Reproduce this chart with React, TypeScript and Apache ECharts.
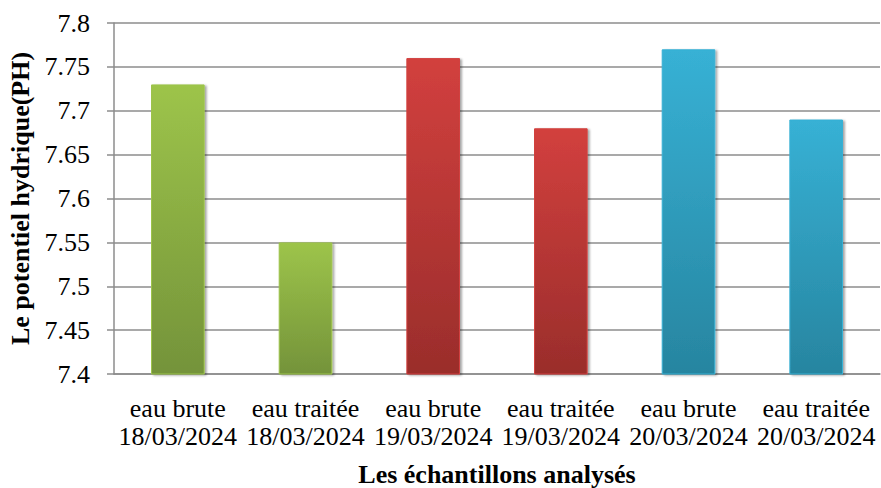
import React, { useEffect, useRef } from "react";
import * as echarts from "echarts";

const categories = [
  "eau brute\n18/03/2024",
  "eau traitée\n18/03/2024",
  "eau brute\n19/03/2024",
  "eau traitée\n19/03/2024",
  "eau brute\n20/03/2024",
  "eau traitée\n20/03/2024",
];
const phValues = [7.73, 7.55, 7.76, 7.68, 7.77, 7.69];
const barColors = [
  ["#9dc44a", "#74933a"],
  ["#9dc44a", "#74933a"],
  ["#d2403e", "#9a2d2b"],
  ["#d2403e", "#9a2d2b"],
  ["#37b1d5", "#2785a0"],
  ["#37b1d5", "#2785a0"],
];

const FONT = "Liberation Serif";

export default function App() {
  const ref = useRef<HTMLDivElement>(null);
  useEffect(() => {
    if (!ref.current) return;
    const chart = echarts.init(ref.current, undefined, { renderer: "svg" });
    chart.setOption({
      animation: false,
      backgroundColor: "#ffffff",
      textStyle: { fontFamily: FONT },
      grid: { left: 114, right: 1, top: 23, bottom: 114, containLabel: false, outerBoundsMode: "none" },
      xAxis: {
        type: "category",
        data: categories,
        name: "Les échantillons analysés",
        nameLocation: "middle",
        nameGap: 87,
        nameTextStyle: { fontFamily: FONT, fontSize: 26, fontWeight: "bold", color: "#000" },
        axisLine: { lineStyle: { color: "#8c8c8c", width: 1.5 } },
        axisTick: { show: false },
        axisLabel: {
          fontFamily: FONT,
          fontSize: 26,
          color: "#000",
          lineHeight: 28,
          margin: 20,
          interval: 0,
        },
      },
      yAxis: {
        type: "value",
        min: 7.4,
        max: 7.8,
        interval: 0.05,
        name: "Le potentiel hydrique(PH)",
        nameLocation: "middle",
        nameGap: 79,
        nameTextStyle: { fontFamily: FONT, fontSize: 26, fontWeight: "bold", color: "#000" },
        axisLine: { show: true, lineStyle: { color: "#8c8c8c", width: 1.5 } },
        axisTick: { show: true, length: 7, lineStyle: { color: "#8c8c8c", width: 1.5 } },
        axisLabel: {
          fontFamily: FONT,
          fontSize: 26,
          color: "#000",
          margin: 24,
          formatter: (v: number) => String(parseFloat(v.toFixed(2))),
        },
        splitLine: { lineStyle: { color: "#8c8c8c", width: 1.5 } },
      },
      series: [
        {
          type: "bar",
          barWidth: "42%",
          data: phValues.map((v, i) => ({
            value: v,
            itemStyle: {
              color: new echarts.graphic.LinearGradient(0, 0, 0, 1, [
                { offset: 0, color: barColors[i][0] },
                { offset: 1, color: barColors[i][1] },
              ]),
              borderColor: barColors[i][0],
              borderWidth: 1,
              shadowColor: "rgba(0,0,0,0.35)",
              shadowOffsetX: 2,
              shadowOffsetY: 1,
              shadowBlur: 2,
            },
          })),
        },
      ],
    });
    return () => chart.dispose();
  }, []);
  return <div ref={ref} style={{ width: 881, height: 488, position: "absolute", left: 0, top: 0 }} />;
}
